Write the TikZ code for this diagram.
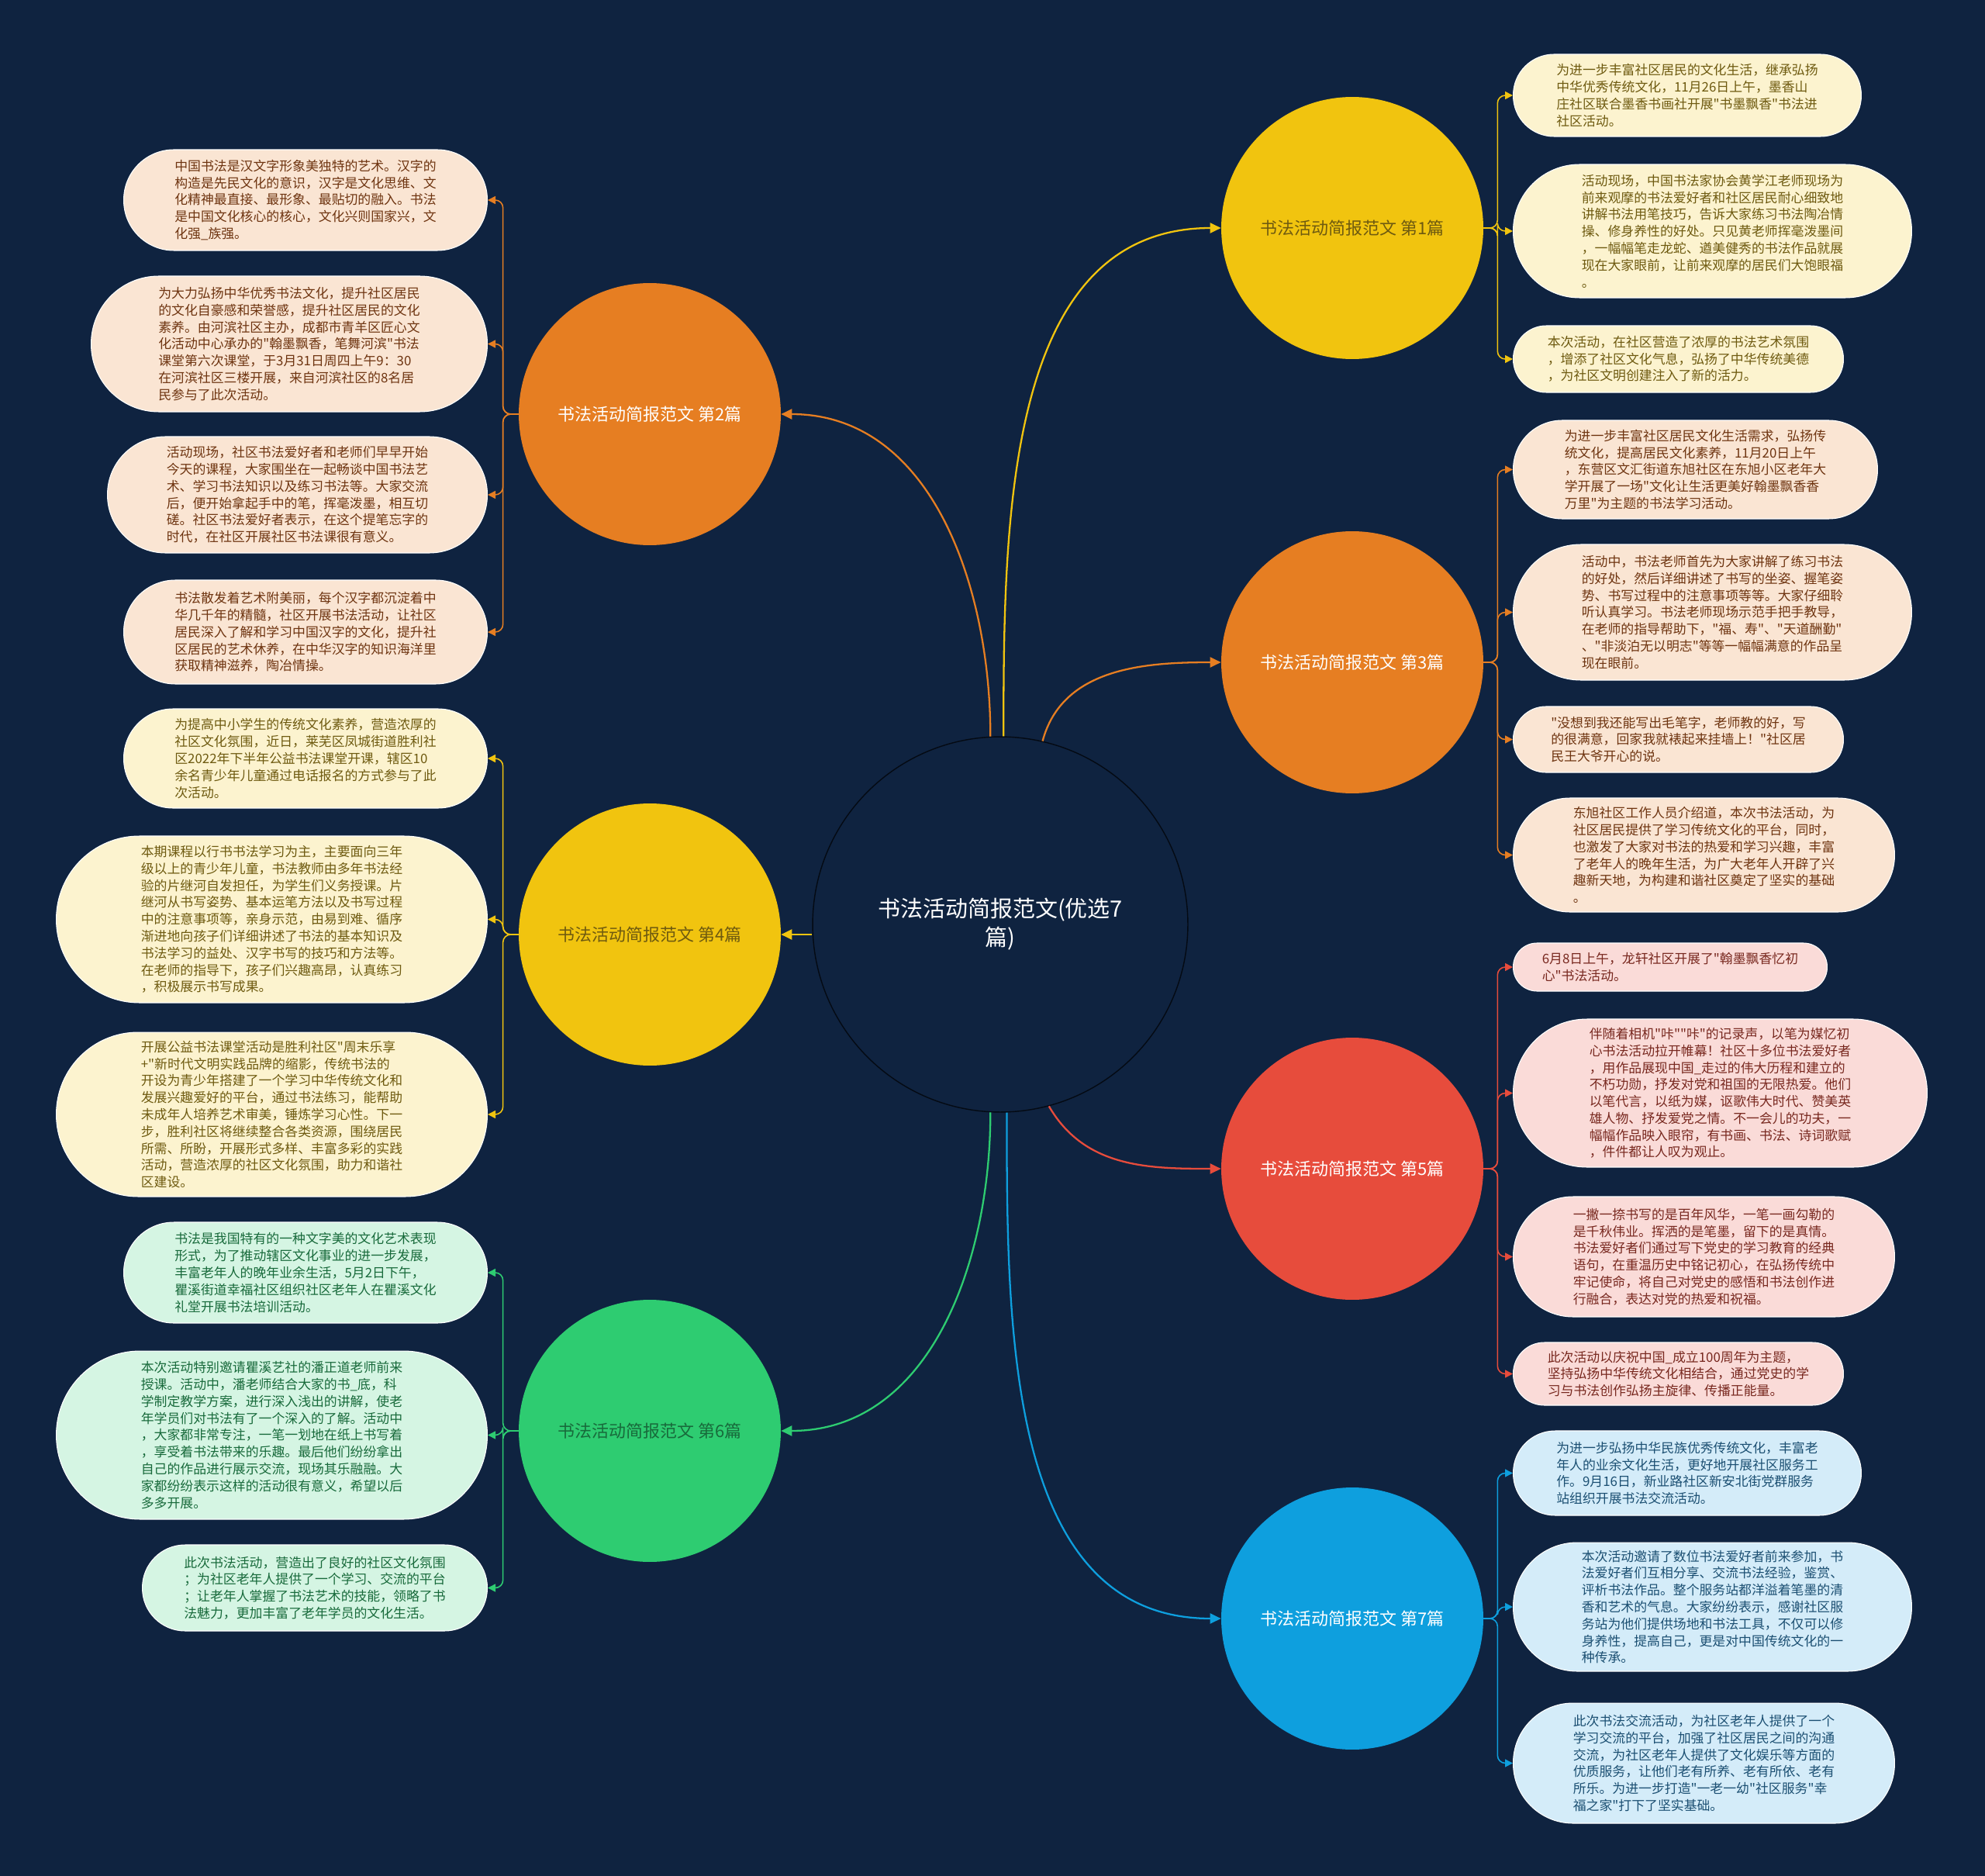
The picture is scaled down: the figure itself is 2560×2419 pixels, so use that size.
\documentclass[tikz,border=0pt]{standalone}
\usepackage{fontspec}
\newfontfamily\cnfont{Noto Sans CJK SC}
\usetikzlibrary{arrows.meta,positioning}
\definecolor{ink}{HTML}{0F2340}
\definecolor{sun}{HTML}{F1C40F}
\definecolor{sunpale}{HTML}{FCF3CF}
\definecolor{sundark}{HTML}{6E5A10}
\definecolor{carrot}{HTML}{E67E22}
\definecolor{carrotpale}{HTML}{FAE5D3}
\definecolor{carrotdark}{HTML}{6E3410}
\definecolor{rose}{HTML}{E74C3C}
\definecolor{rosepale}{HTML}{FADBD8}
\definecolor{rosedark}{HTML}{78281F}
\definecolor{mint}{HTML}{2ECC71}
\definecolor{mintpale}{HTML}{D5F5E3}
\definecolor{mintdark}{HTML}{186A3B}
\definecolor{sky}{HTML}{0E9FDE}
\definecolor{skypale}{HTML}{D4ECF9}
\definecolor{skydark}{HTML}{1B4F72}
\tikzset{
  hub/.style={circle,draw=black!70!ink,line width=0.8pt,fill=ink,minimum size=9.68cm,inner sep=0pt,align=center,text=white,font=\cnfont\fontsize{16.5pt}{21pt}\selectfont},
  topic/.style={circle,minimum size=6.76cm,inner sep=0pt,font=\cnfont\fontsize{12.5pt}{14pt}\selectfont},
  pill/.style 2 args={minimum width=#1,minimum height=#2,rounded corners=0.5*#2-0.2pt},
  leaf/.style={rectangle,draw=white,line width=0.6pt,align=left,inner sep=0pt,font=\cnfont\fontsize{9.6pt}{12.4pt}\selectfont},
  leafY/.style={leaf,fill=sunpale,text=sundark},
  leafO/.style={leaf,fill=carrotpale,text=carrotdark},
  leafR/.style={leaf,fill=rosepale,text=rosedark},
  leafG/.style={leaf,fill=mintpale,text=mintdark},
  leafB/.style={leaf,fill=skypale,text=skydark},
  trunk/.style={-{Triangle[length=2.8mm,width=2.6mm]},line width=1.3pt},
  twig/.style={-{Triangle[length=2mm,width=2mm]},line width=0.9pt,rounded corners=0.2cm}
}
\begin{document}
\begin{tikzpicture}[x=0.02cm,y=0.02cm]
  \fill[ink] (0,0) rectangle (2560,-2419);
  \node[hub] (c) at (1290,-1192) {书法活动简报范文(优选7\\篇)};
  \node[topic,fill=sun,text=sundark] (m1) at (1744,-294) {书法活动简报范文 第1篇};
  \node[topic,fill=carrot,text=white] (m2) at (838,-534) {书法活动简报范文 第2篇};
  \node[topic,fill=carrot,text=white] (m3) at (1744,-854) {书法活动简报范文 第3篇};
  \node[topic,fill=sun,text=sundark] (m4) at (838,-1205) {书法活动简报范文 第4篇};
  \node[topic,fill=rose,text=white] (m5) at (1744,-1507) {书法活动简报范文 第5篇};
  \node[topic,fill=mint,text=mintdark] (m6) at (838,-1845) {书法活动简报范文 第6篇};
  \node[topic,fill=sky,text=white] (m7) at (1744,-2087) {书法活动简报范文 第7篇};

  \draw[trunk,sun] (c.89) to[out=90,in=180] (m1.west);
  \draw[trunk,carrot] (c.93) to[out=90,in=0] (m2.east);
  \draw[trunk,carrot] (c.77) to[out=75,in=180] (m3.west);
  \draw[trunk,sun] (c.west |- m4.east) -- (m4.east);
  \draw[trunk,rose] (c.-75) to[out=-60,in=180] (m5.west);
  \draw[trunk,mint] (c.-93) to[out=-90,in=0] (m6.east);
  \draw[trunk,sky] (c.-88) to[out=-90,in=180] (m7.west);

  % left column
  \node[leafO,pill={9.38cm}{2.6cm},anchor=east] (l2a) at (629,-258) {中国书法是汉文字形象美独特的艺术。汉字的\\构造是先民文化的意识，汉字是文化思维、文\\化精神最直接、最形象、最贴切的融入。书法\\是中国文化核心的核心，文化兴则国家兴，文\\化强\_族强。};
  \node[leafO,pill={10.22cm}{3.5cm},anchor=east] (l2b) at (629,-443.5) {为大力弘扬中华优秀书法文化，提升社区居民\\的文化自豪感和荣誉感，提升社区居民的文化\\素养。由河滨社区主办，成都市青羊区匠心文\\化活动中心承办的"翰墨飘香，笔舞河滨"书法\\课堂第六次课堂，于3月31日周四上午9：30\\在河滨社区三楼开展，来自河滨社区的8名居\\民参与了此次活动。};
  \node[leafO,pill={9.8cm}{3.0cm},anchor=east] (l2c) at (629,-638) {活动现场，社区书法爱好者和老师们早早开始\\今天的课程，大家围坐在一起畅谈中国书法艺\\术、学习书法知识以及练习书法等。大家交流\\后，便开始拿起手中的笔，挥毫泼墨，相互切\\磋。社区书法爱好者表示，在这个提笔忘字的\\时代，在社区开展社区书法课很有意义。};
  \node[leafO,pill={9.38cm}{2.68cm},anchor=east] (l2d) at (629,-815) {书法散发着艺术附美丽，每个汉字都沉淀着中\\华几千年的精髓，社区开展书法活动，让社区\\居民深入了解和学习中国汉字的文化，提升社\\区居民的艺术休养，在中华汉字的知识海洋里\\获取精神滋养，陶冶情操。};
  \node[leafY,pill={9.38cm}{2.56cm},anchor=east] (l4a) at (629,-978) {为提高中小学生的传统文化素养，营造浓厚的\\社区文化氛围，近日，莱芜区凤城街道胜利社\\区2022年下半年公益书法课堂开课，辖区10\\余名青少年儿童通过电话报名的方式参与了此\\次活动。};
  \node[leafY,pill={11.12cm}{4.3cm},anchor=east] (l4b) at (629,-1185.5) {本期课程以行书书法学习为主，主要面向三年\\级以上的青少年儿童，书法教师由多年书法经\\验的片继河自发担任，为学生们义务授课。片\\继河从书写姿势、基本运笔方法以及书写过程\\中的注意事项等，亲身示范，由易到难、循序\\渐进地向孩子们详细讲述了书法的基本知识及\\书法学习的益处、汉字书写的技巧和方法等。\\在老师的指导下，孩子们兴趣高昂，认真练习\\，积极展示书写成果。};
  \node[leafY,pill={11.12cm}{4.24cm},anchor=east] (l4c) at (629,-1437) {开展公益书法课堂活动是胜利社区"周末乐享\\+"新时代文明实践品牌的缩影，传统书法的\\开设为青少年搭建了一个学习中华传统文化和\\发展兴趣爱好的平台，通过书法练习，能帮助\\未成年人培养艺术审美，锤炼学习心性。下一\\步，胜利社区将继续整合各类资源，围绕居民\\所需、所盼，开展形式多样、丰富多彩的实践\\活动，营造浓厚的社区文化氛围，助力和谐社\\区建设。};
  \node[leafG,pill={9.38cm}{2.6cm},anchor=east] (l6a) at (629,-1641) {书法是我国特有的一种文字美的文化艺术表现\\形式，为了推动辖区文化事业的进一步发展，\\丰富老年人的晚年业余生活，5月2日下午，\\瞿溪街道幸福社区组织社区老年人在瞿溪文化\\礼堂开展书法培训活动。};
  \node[leafG,pill={11.12cm}{4.34cm},anchor=east] (l6b) at (629,-1850.5) {本次活动特别邀请瞿溪艺社的潘正道老师前来\\授课。活动中，潘老师结合大家的书\_底，科\\学制定教学方案，进行深入浅出的讲解，使老\\年学员们对书法有了一个深入的了解。活动中\\，大家都非常专注，一笔一划地在纸上书写着\\，享受着书法带来的乐趣。最后他们纷纷拿出\\自己的作品进行展示交流，现场其乐融融。大\\家都纷纷表示这样的活动很有意义，希望以后\\多多开展。};
  \node[leafG,pill={8.9cm}{2.22cm},anchor=east] (l6c) at (629,-2047.5) {此次书法活动，营造出了良好的社区文化氛围\\；为社区老年人提供了一个学习、交流的平台\\；让老年人掌握了书法艺术的技能，领略了书\\法魅力，更加丰富了老年学员的文化生活。};

  % right column
  \node[leafY,pill={8.98cm}{2.12cm},anchor=west] (r1a) at (1951,-123) {为进一步丰富社区居民的文化生活，继承弘扬\\中华优秀传统文化，11月26日上午，墨香山\\庄社区联合墨香书画社开展"书墨飘香"书法进\\社区活动。};
  \node[leafY,pill={10.28cm}{3.44cm},anchor=west] (r1b) at (1951,-298) {活动现场，中国书法家协会黄学江老师现场为\\前来观摩的书法爱好者和社区居民耐心细致地\\讲解书法用笔技巧，告诉大家练习书法陶冶情\\操、修身养性的好处。只见黄老师挥毫泼墨间\\，一幅幅笔走龙蛇、遒美健秀的书法作品就展\\现在大家眼前，让前来观摩的居民们大饱眼福\\。};
  \node[leafY,pill={8.52cm}{1.72cm},anchor=west] (r1c) at (1951,-463) {本次活动，在社区营造了浓厚的书法艺术氛围\\，增添了社区文化气息，弘扬了中华传统美德\\，为社区文明创建注入了新的活力。};
  \node[leafO,pill={9.4cm}{2.54cm},anchor=west] (r3a) at (1951,-605.5) {为进一步丰富社区居民文化生活需求，弘扬传\\统文化，提高居民文化素养，11月20日上午\\，东营区文汇街道东旭社区在东旭小区老年大\\学开展了一场"文化让生活更美好翰墨飘香香\\万里"为主题的书法学习活动。};
  \node[leafO,pill={10.28cm}{3.5cm},anchor=west] (r3b) at (1951,-789.5) {活动中，书法老师首先为大家讲解了练习书法\\的好处，然后详细讲述了书写的坐姿、握笔姿\\势、书写过程中的注意事项等等。大家仔细聆\\听认真学习。书法老师现场示范手把手教导，\\在老师的指导帮助下，"福、寿"、"天道酬勤"\\、"非淡泊无以明志"等等一幅幅满意的作品呈\\现在眼前。};
  \node[leafO,pill={8.52cm}{1.7cm},anchor=west] (r3c) at (1951,-953.5) {"没想到我还能写出毛笔字，老师教的好，写\\的很满意，回家我就裱起来挂墙上！"社区居\\民王大爷开心的说。};
  \node[leafO,pill={9.84cm}{2.94cm},anchor=west] (r3d) at (1951,-1102.5) {东旭社区工作人员介绍道，本次书法活动，为\\社区居民提供了学习传统文化的平台，同时，\\也激发了大家对书法的热爱和学习兴趣，丰富\\了老年人的晚年生活，为广大老年人开辟了兴\\趣新天地，为构建和谐社区奠定了坚实的基础\\。};
  \node[leafR,pill={8.1cm}{1.24cm},anchor=west] (r5a) at (1951,-1247) {6月8日上午，龙轩社区开展了"翰墨飘香忆初\\心"书法活动。};
  \node[leafR,pill={10.68cm}{3.82cm},anchor=west] (r5b) at (1951,-1409.5) {伴随着相机"咔""咔"的记录声，以笔为媒忆初\\心书法活动拉开帷幕！社区十多位书法爱好者\\，用作品展现中国\_走过的伟大历程和建立的\\不朽功勋，抒发对党和祖国的无限热爱。他们\\以笔代言，以纸为媒，讴歌伟大时代、赞美英\\雄人物、抒发爱党之情。不一会儿的功夫，一\\幅幅作品映入眼帘，有书画、书法、诗词歌赋\\，件件都让人叹为观止。};
  \node[leafR,pill={9.84cm}{3.1cm},anchor=west] (r5c) at (1951,-1620.5) {一撇一捺书写的是百年风华，一笔一画勾勒的\\是千秋伟业。挥洒的是笔墨，留下的是真情。\\书法爱好者们通过写下党史的学习教育的经典\\语句，在重温历史中铭记初心，在弘扬传统中\\牢记使命，将自己对党史的感悟和书法创作进\\行融合，表达对党的热爱和祝福。};
  \node[leafR,pill={8.52cm}{1.62cm},anchor=west] (r5d) at (1951,-1771.5) {此次活动以庆祝中国\_成立100周年为主题，\\坚持弘扬中华传统文化相结合，通过党史的学\\习与书法创作弘扬主旋律、传播正能量。};
  \node[leafB,pill={8.98cm}{2.18cm},anchor=west] (r7a) at (1951,-1899.5) {为进一步弘扬中华民族优秀传统文化，丰富老\\年人的业余文化生活，更好地开展社区服务工\\作。9月16日，新业路社区新安北街党群服务\\站组织开展书法交流活动。};
  \node[leafB,pill={10.28cm}{3.32cm},anchor=west] (r7b) at (1951,-2072) {本次活动邀请了数位书法爱好者前来参加，书\\法爱好者们互相分享、交流书法经验，鉴赏、\\评析书法作品。整个服务站都洋溢着笔墨的清\\香和艺术的气息。大家纷纷表示，感谢社区服\\务站为他们提供场地和书法工具，不仅可以修\\身养性，提高自己，更是对中国传统文化的一\\种传承。};
  \node[leafB,pill={9.84cm}{3.1cm},anchor=west] (r7c) at (1951,-2273.5) {此次书法交流活动，为社区老年人提供了一个\\学习交流的平台，加强了社区居民之间的沟通\\交流，为社区老年人提供了文化娱乐等方面的\\优质服务，让他们老有所养、老有所依、老有\\所乐。为进一步打造"一老一幼"社区服务"幸\\福之家"打下了坚实基础。};

  % branches to leaves
  \foreach \l in {r1a,r1b,r1c} \draw[twig,sun] (m1.east) -- ++(18,0) |- (\l.west);
  \foreach \l in {r3a,r3b,r3c,r3d} \draw[twig,carrot] (m3.east) -- ++(18,0) |- (\l.west);
  \foreach \l in {r5a,r5b,r5c,r5d} \draw[twig,rose] (m5.east) -- ++(18,0) |- (\l.west);
  \foreach \l in {r7a,r7b,r7c} \draw[twig,sky] (m7.east) -- ++(18,0) |- (\l.west);
  \foreach \l in {l2a,l2b,l2c,l2d} \draw[twig,carrot] (m2.west) -- ++(-20,0) |- (\l.east);
  \foreach \l in {l4a,l4b,l4c} \draw[twig,sun] (m4.west) -- ++(-20,0) |- (\l.east);
  \foreach \l in {l6a,l6b,l6c} \draw[twig,mint] (m6.west) -- ++(-20,0) |- (\l.east);
\end{tikzpicture}
\end{document}
